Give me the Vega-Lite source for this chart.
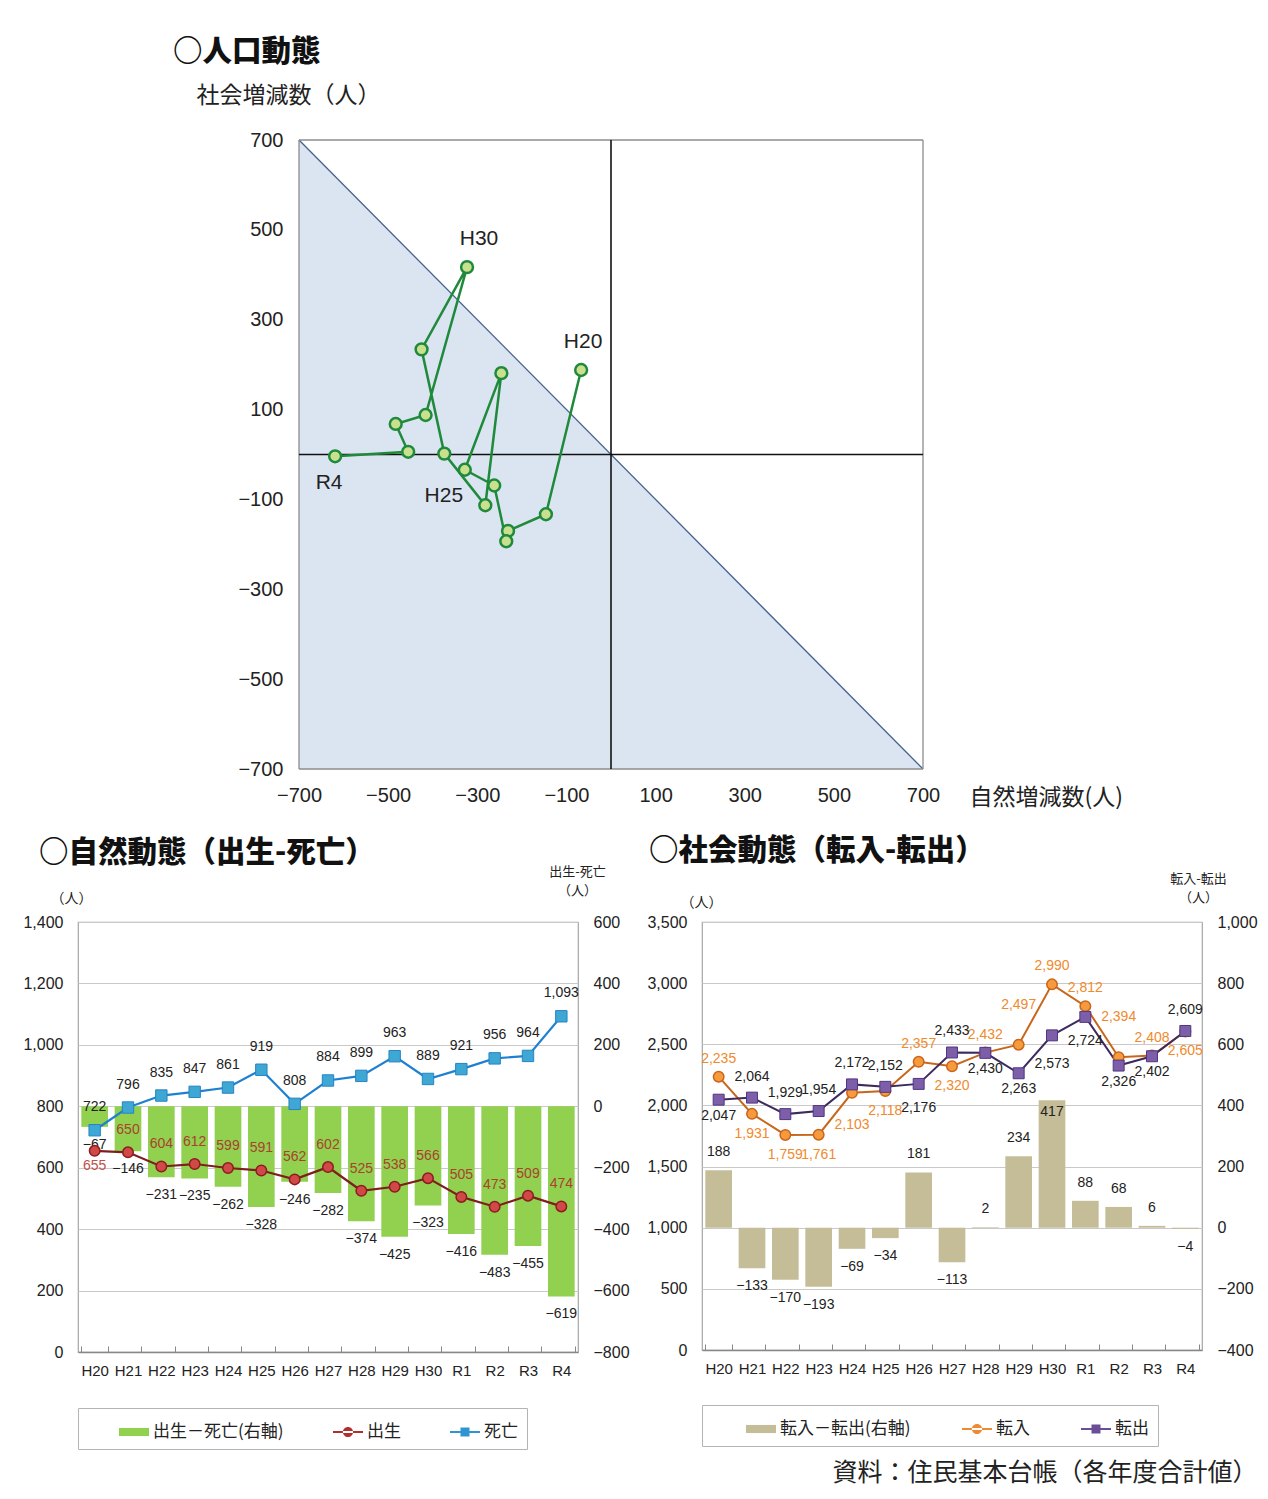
{
  "$schema": "https://vega.github.io/schema/vega-lite/v6.json",
  "background": "white",
  "padding": {"left": 22, "top": 36, "right": 8, "bottom": 3},
  "autosize": {"type": "pad"},
  "title": {"text": "資料：住民基本台帳（各年度合計値）", "orient": "bottom", "anchor": "end", "frame": "bounds", "baseline": "top", "font": "Noto Sans CJK JP", "fontSize": 25, "fontWeight": "normal", "color": "#222", "offset": 11},
  "config": {
    "font": "Liberation Sans, Noto Sans CJK JP",
    "view": {"stroke": null},
    "axis": {"labelFont": "Liberation Sans, Noto Sans CJK JP", "labelColor": "#222", "labelFontSize": 16, "titleFont": "Noto Sans CJK JP", "titleFontWeight": "normal", "titleColor": "#222"},
    "title": {"font": "Noto Sans CJK JP", "fontWeight": 900, "fontSize": 29.5, "color": "#111", "anchor": "start", "frame": "group", "baseline": "bottom"},
    "text": {"font": "Liberation Sans, Noto Sans CJK JP", "fontSize": 14, "color": "#222"},
    "legend": {"labelFont": "Noto Sans CJK JP", "labelFontSize": 17, "labelColor": "#222"}
  },
  "datasets": {
    "d": [
      {"yr": "H20", "birth": 655, "death": 722, "nat": -67, "tin": 2235, "tout": 2047, "soc": 188},
      {"yr": "H21", "birth": 650, "death": 796, "nat": -146, "tin": 1931, "tout": 2064, "soc": -133},
      {"yr": "H22", "birth": 604, "death": 835, "nat": -231, "tin": 1759, "tout": 1929, "soc": -170},
      {"yr": "H23", "birth": 612, "death": 847, "nat": -235, "tin": 1761, "tout": 1954, "soc": -193},
      {"yr": "H24", "birth": 599, "death": 861, "nat": -262, "tin": 2103, "tout": 2172, "soc": -69},
      {"yr": "H25", "birth": 591, "death": 919, "nat": -328, "tin": 2118, "tout": 2152, "soc": -34},
      {"yr": "H26", "birth": 562, "death": 808, "nat": -246, "tin": 2357, "tout": 2176, "soc": 181},
      {"yr": "H27", "birth": 602, "death": 884, "nat": -282, "tin": 2320, "tout": 2433, "soc": -113},
      {"yr": "H28", "birth": 525, "death": 899, "nat": -374, "tin": 2432, "tout": 2430, "soc": 2},
      {"yr": "H29", "birth": 538, "death": 963, "nat": -425, "tin": 2497, "tout": 2263, "soc": 234},
      {"yr": "H30", "birth": 566, "death": 889, "nat": -323, "tin": 2990, "tout": 2573, "soc": 417},
      {"yr": "R1", "birth": 505, "death": 921, "nat": -416, "tin": 2812, "tout": 2724, "soc": 88},
      {"yr": "R2", "birth": 473, "death": 956, "nat": -483, "tin": 2394, "tout": 2326, "soc": 68},
      {"yr": "R3", "birth": 509, "death": 964, "nat": -455, "tin": 2408, "tout": 2402, "soc": 6},
      {"yr": "R4", "birth": 474, "death": 1093, "nat": -619, "tin": 2605, "tout": 2609, "soc": -4}
    ],
    "tri": [
      {"nat": -700, "soc": 700},
      {"nat": 700, "soc": -700}
    ]
  },
  "columns": 2,
  "bounds": "flush",
  "spacing": {"row": 153, "column": 124},
  "resolve": {"scale": {"color": "independent", "shape": "independent"}},
  "concat": [
    {
      "width": 500, "height": 629,
      "title": {"text": "○人口動態", "dx": 95, "offset": 17},
      "layer": [
        {
          "data": {"name": "tri"},
          "encoding": {
            "x": {"field": "nat", "type": "quantitative", "scale": {"domain": [-700, 700], "range": [221, 845], "nice": false, "zero": false},
              "axis": {"orient": "bottom", "values": [-700, -500, -300, -100, 100, 300, 500, 700], "labelFlush": false, "labelOverlap": false, "labelFontSize": 20, "labelPadding": 16, "ticks": false, "domain": false, "grid": false,
                "title": "自然増減数(人)", "titleAngle": 0, "titleAlign": "left", "titleBaseline": "middle", "titleX": 891, "titleY": 28, "titleFontSize": 23}},
            "y": {"field": "soc", "type": "quantitative", "scale": {"domain": [-700, 700], "nice": false, "zero": false},
              "axis": {"orient": "left", "offset": -221, "values": [-700, -500, -300, -100, 100, 300, 500, 700], "labelFlush": false, "labelOverlap": false, "labelFontSize": 20, "labelPadding": 16, "ticks": false, "domain": false, "grid": false,
                "title": "社会増減数（人）", "titleAngle": 0, "titleAlign": "left", "titleBaseline": "middle", "titleX": -103, "titleY": -45, "titleFontSize": 23}}
          },
          "layer": [
            {"mark": {"type": "area", "color": "#dbe5f1", "opacity": 1}, "encoding": {"y2": {"datum": -700}}},
            {"mark": {"type": "line", "color": "#44628f", "strokeWidth": 1.3}}
          ]
        },
        {
          "data": {"values": [{}]},
          "layer": [
            {"mark": {"type": "rule", "color": "#8c8c8c", "strokeWidth": 1.3},
              "encoding": {"x": {"datum": -700, "type": "quantitative", "scale": {"domain": [-700, 700], "range": [221, 845], "nice": false}, "axis": null}}},
            {"mark": {"type": "rule", "color": "#8c8c8c", "strokeWidth": 1.3},
              "encoding": {"x": {"datum": 700, "type": "quantitative", "scale": {"domain": [-700, 700], "range": [221, 845], "nice": false}, "axis": null}}},
            {"mark": {"type": "rule", "color": "#8c8c8c", "strokeWidth": 1.3},
              "encoding": {
                "x": {"datum": -700, "type": "quantitative", "scale": {"domain": [-700, 700], "range": [221, 845], "nice": false}, "axis": null},
                "x2": {"datum": 700},
                "y": {"datum": 700, "type": "quantitative", "scale": {"domain": [-700, 700], "nice": false}, "axis": null}}},
            {"mark": {"type": "rule", "color": "#8c8c8c", "strokeWidth": 1.3},
              "encoding": {
                "x": {"datum": -700, "type": "quantitative", "scale": {"domain": [-700, 700], "range": [221, 845], "nice": false}, "axis": null},
                "x2": {"datum": 700},
                "y": {"datum": -700, "type": "quantitative", "scale": {"domain": [-700, 700], "nice": false}, "axis": null}}},
            {"mark": {"type": "rule", "color": "#111", "strokeWidth": 1.6},
              "encoding": {"x": {"datum": 0, "type": "quantitative", "scale": {"domain": [-700, 700], "range": [221, 845], "nice": false},
                "axis": {"orient": "bottom", "offset": -314.5, "labels": false, "domain": false, "ticks": true, "tickSize": 6, "tickColor": "#111", "tickWidth": 1.5, "values": [-500, -300, -100, 100, 300, 500], "title": null, "grid": false}}}},
            {"mark": {"type": "rule", "color": "#111", "strokeWidth": 1.6},
              "encoding": {
                "x": {"datum": -700, "type": "quantitative", "scale": {"domain": [-700, 700], "range": [221, 845], "nice": false}, "axis": null},
                "x2": {"datum": 700},
                "y": {"datum": 0, "type": "quantitative", "scale": {"domain": [-700, 700], "nice": false},
                  "axis": {"orient": "left", "offset": -533, "labels": false, "domain": false, "ticks": true, "tickSize": 6, "tickColor": "#111", "tickWidth": 1.5, "values": [-500, -300, -100, 100, 300, 500], "title": null, "grid": false}}}}
          ]
        },
        {
          "data": {"name": "d"},
          "encoding": {
            "x": {"field": "nat", "type": "quantitative", "scale": {"domain": [-700, 700], "range": [221, 845], "nice": false, "zero": false}, "axis": null},
            "y": {"field": "soc", "type": "quantitative", "scale": {"domain": [-700, 700], "nice": false, "zero": false}, "axis": null}
          },
          "layer": [
            {"mark": {"type": "line", "color": "#1f8a3c", "strokeWidth": 2.5}, "encoding": {"order": {"value": null}}},
            {"mark": {"type": "circle", "size": 140, "fill": "#c9e08e", "stroke": "#1f8a3c", "strokeWidth": 2.5, "opacity": 1}},
            {"transform": [{"filter": {"field": "yr", "equal": "H20"}}], "mark": {"type": "text", "fontSize": 21, "dy": -28, "dx": 2}, "encoding": {"text": {"field": "yr"}}},
            {"transform": [{"filter": {"field": "yr", "equal": "H30"}}], "mark": {"type": "text", "fontSize": 21, "dy": -28, "dx": 12}, "encoding": {"text": {"field": "yr"}}},
            {"transform": [{"filter": {"field": "yr", "equal": "H25"}}], "mark": {"type": "text", "fontSize": 21, "dy": 26, "dx": -21}, "encoding": {"text": {"field": "yr"}}},
            {"transform": [{"filter": {"field": "yr", "equal": "R4"}}], "mark": {"type": "text", "fontSize": 21, "dy": 27, "dx": -6}, "encoding": {"text": {"field": "yr"}}}
          ]
        }
      ],
      "resolve": {"axis": {"x": "independent", "y": "independent"}}
    },
    {
      "width": 1, "height": 1,
      "data": {"values": [{}]},
      "mark": {"type": "point", "opacity": 0},
      "encoding": {}
    },
    {
      "width": 500, "height": 430,
      "title": {"text": "○自然動態（出生-死亡）", "dx": -39, "offset": -3},
      "view": {"stroke": "#a6a6a6", "strokeWidth": 1.2},
      "data": {"name": "d"},
      "encoding": {
        "x": {"field": "yr", "type": "ordinal", "sort": null, "scale": {"paddingInner": 0.2, "paddingOuter": 0.1},
          "axis": {"title": null, "labelAngle": 0, "labelFontSize": 15, "labelPadding": 17, "domainColor": "#888", "domainWidth": 1.5, "tickBand": "extent", "tickSize": -6, "tickColor": "#888", "grid": false}}
      },
      "layer": [
        {
          "encoding": {
            "y": {"field": "nat", "type": "quantitative", "scale": {"domain": [-800, 600], "nice": false},
              "axis": {"orient": "right", "values": [-800, -600, -400, -200, 0, 200, 400, 600], "format": ",d", "grid": false, "domain": false, "ticks": false, "labelPadding": 15,
                "title": ["出生-死亡", "（人）"], "titleAngle": 0, "titleAlign": "center", "titleBaseline": "top", "titleX": -1, "titleY": -57, "titleFontSize": 13, "titleLineHeight": 19}}
          },
          "layer": [
            {"mark": {"type": "bar", "color": "#92d050"}},
            {"mark": {"type": "text", "dy": 18}, "encoding": {"text": {"field": "nat", "format": ","}}}
          ]
        },
        {
          "transform": [{"fold": ["birth", "death"], "as": ["k", "v"]}],
          "encoding": {
            "y": {"field": "v", "type": "quantitative", "scale": {"domain": [0, 1400], "nice": false},
              "axis": {"orient": "left", "values": [0, 200, 400, 600, 800, 1000, 1200, 1400], "format": ",d", "grid": true, "gridColor": "#c9c9c9", "domain": false, "ticks": false, "labelPadding": 15,
                "title": "（人）", "titleAngle": 0, "titleAlign": "center", "titleBaseline": "middle", "titleX": -7, "titleY": -24, "titleFontSize": 14}},
            "order": {"value": null}
          },
          "layer": [
            {"transform": [{"filter": {"field": "k", "equal": "birth"}}], "mark": {"type": "line", "color": "#7d1f1f", "strokeWidth": 2.2}},
            {"transform": [{"filter": {"field": "k", "equal": "death"}}], "mark": {"type": "line", "color": "#1f80d2", "strokeWidth": 2.2}},
            {"transform": [{"filter": {"field": "k", "equal": "birth"}}], "mark": {"type": "circle", "size": 110, "fill": "#d04848", "stroke": "#8b1d1d", "strokeWidth": 1.5, "opacity": 1}},
            {"transform": [{"filter": {"field": "k", "equal": "death"}}], "mark": {"type": "square", "size": 130, "fill": "#3ea7d4", "stroke": "#2684c4", "strokeWidth": 1, "opacity": 1}},
            {"transform": [{"filter": "datum.k == 'birth' && datum.yr != 'H20'"}], "mark": {"type": "text", "dy": -22, "color": "#a8432e"}, "encoding": {"text": {"field": "v", "format": ","}}},
            {"transform": [{"filter": "datum.k == 'birth' && datum.yr == 'H20'"}], "mark": {"type": "text", "dy": 15, "color": "#c2504a"}, "encoding": {"text": {"field": "v", "format": ","}}},
            {"transform": [{"filter": {"field": "k", "equal": "death"}}], "mark": {"type": "text", "dy": -23}, "encoding": {"text": {"field": "v", "format": ","}}}
          ]
        },
        {
          "data": {"values": [{"s": "出生－死亡(右軸)"}, {"s": "出生"}, {"s": "死亡"}]},
          "mark": {"type": "point", "filled": true, "opacity": 0},
          "encoding": {
            "x": {"value": 0}, "y": {"value": 0},
            "color": {"field": "s", "type": "nominal", "scale": {"domain": ["出生－死亡(右軸)", "出生", "死亡"], "range": ["#92d050", "#b03030", "#2f95d0"]},
              "legend": {"orient": "none", "legendX": 0, "legendY": 486, "direction": "horizontal", "title": null, "strokeColor": "#b4b4b4", "fillColor": "white", "padding": 9, "symbolOffset": 32, "columnPadding": 17, "labelOffset": 4, "symbolSize": 900, "symbolStrokeWidth": 0, "symbolOpacity": 1,
                "encode": {"symbols": {"update": {"opacity": {"value": 1}}}}}},
            "shape": {"field": "s", "type": "nominal", "scale": {"domain": ["出生－死亡(右軸)", "出生", "死亡"], "range": ["M-1,-0.27H1V0.27H-1Z", "M-1,-0.07H1V0.07H-1Z M-0.34,0A0.34,0.34 0 1,0 0.34,0A0.34,0.34 0 1,0 -0.34,0Z", "M-1,-0.07H1V0.07H-1Z M-0.3,-0.3H0.3V0.3H-0.3Z"]}}
          }
        }
      ],
      "resolve": {"scale": {"y": "independent"}}
    },
    {
      "width": 500, "height": 428,
      "title": {"text": "○社会動態（転入-転出）", "dx": -53, "offset": 6},
      "view": {"stroke": "#a6a6a6", "strokeWidth": 1.2},
      "data": {"name": "d"},
      "encoding": {
        "x": {"field": "yr", "type": "ordinal", "sort": null, "scale": {"paddingInner": 0.2, "paddingOuter": 0.1},
          "axis": {"title": null, "labelAngle": 0, "labelFontSize": 15, "labelPadding": 17, "domainColor": "#888", "domainWidth": 1.5, "tickBand": "extent", "tickSize": -6, "tickColor": "#888", "grid": false}}
      },
      "layer": [
        {
          "encoding": {
            "y": {"field": "soc", "type": "quantitative", "scale": {"domain": [-400, 1000], "nice": false},
              "axis": {"orient": "right", "values": [-400, -200, 0, 200, 400, 600, 800, 1000], "format": ",d", "grid": false, "domain": false, "ticks": false, "labelPadding": 15,
                "title": ["転入-転出", "（人）"], "titleAngle": 0, "titleAlign": "center", "titleBaseline": "top", "titleX": -4, "titleY": -50, "titleFontSize": 13, "titleLineHeight": 19}}
          },
          "layer": [
            {"mark": {"type": "bar", "color": "#c4bd97"}},
            {"transform": [{"filter": "datum.soc >= 0 && datum.yr != 'H30'"}], "mark": {"type": "text", "dy": -18}, "encoding": {"text": {"field": "soc", "format": ","}}},
            {"transform": [{"filter": "datum.yr == 'H30'"}], "mark": {"type": "text", "dy": 12}, "encoding": {"text": {"field": "soc", "format": ","}}},
            {"transform": [{"filter": "datum.soc < 0"}], "mark": {"type": "text", "dy": 18}, "encoding": {"text": {"field": "soc", "format": ","}}}
          ]
        },
        {
          "transform": [{"fold": ["tin", "tout"], "as": ["k", "v"]}],
          "encoding": {
            "y": {"field": "v", "type": "quantitative", "scale": {"domain": [0, 3500], "nice": false},
              "axis": {"orient": "left", "values": [0, 500, 1000, 1500, 2000, 2500, 3000, 3500], "format": ",d", "grid": true, "gridColor": "#c9c9c9", "domain": false, "ticks": false, "labelPadding": 15,
                "title": "（人）", "titleAngle": 0, "titleAlign": "center", "titleBaseline": "middle", "titleX": -1, "titleY": -20, "titleFontSize": 14}},
            "order": {"value": null}
          },
          "layer": [
            {"transform": [{"filter": {"field": "k", "equal": "tin"}}], "mark": {"type": "line", "color": "#c8661a", "strokeWidth": 2}},
            {"transform": [{"filter": {"field": "k", "equal": "tout"}}], "mark": {"type": "line", "color": "#3d2b5e", "strokeWidth": 2}},
            {"transform": [{"filter": {"field": "k", "equal": "tin"}}], "mark": {"type": "circle", "size": 110, "fill": "#f79a3e", "stroke": "#c8661a", "strokeWidth": 1.5, "opacity": 1}},
            {"transform": [{"filter": {"field": "k", "equal": "tout"}}], "mark": {"type": "square", "size": 120, "fill": "#7d5ea9", "stroke": "#4f3680", "strokeWidth": 1, "opacity": 1}},
            {"transform": [{"filter": {"field": "k", "equal": "tin"}}, {"filter": {"field": "yr", "oneOf": ["H20", "H26", "H28", "H30", "R1", "R3"]}}],
              "mark": {"type": "text", "dy": -18, "color": "#f08a2c"}, "encoding": {"text": {"field": "v", "format": ","}}},
            {"transform": [{"filter": {"field": "k", "equal": "tin"}}, {"filter": {"field": "yr", "oneOf": ["H29", "R2"]}}],
              "mark": {"type": "text", "dy": -40, "color": "#f08a2c"}, "encoding": {"text": {"field": "v", "format": ","}}},
            {"transform": [{"filter": {"field": "k", "equal": "tin"}}, {"filter": {"field": "yr", "oneOf": ["H21", "H22", "H23", "H25", "H27", "R4"]}}],
              "mark": {"type": "text", "dy": 20, "color": "#f08a2c"}, "encoding": {"text": {"field": "v", "format": ","}}},
            {"transform": [{"filter": {"field": "k", "equal": "tin"}}, {"filter": {"field": "yr", "equal": "H24"}}],
              "mark": {"type": "text", "dy": 32, "color": "#f08a2c"}, "encoding": {"text": {"field": "v", "format": ","}}},
            {"transform": [{"filter": {"field": "k", "equal": "tout"}}, {"filter": {"field": "yr", "oneOf": ["H21", "H22", "H23", "H24", "H25", "H27", "R4"]}}],
              "mark": {"type": "text", "dy": -21}, "encoding": {"text": {"field": "v", "format": ","}}},
            {"transform": [{"filter": {"field": "k", "equal": "tout"}}, {"filter": {"field": "yr", "oneOf": ["H20", "H28", "H29", "R2", "R3"]}}],
              "mark": {"type": "text", "dy": 16}, "encoding": {"text": {"field": "v", "format": ","}}},
            {"transform": [{"filter": {"field": "k", "equal": "tout"}}, {"filter": {"field": "yr", "oneOf": ["H26", "R1"]}}],
              "mark": {"type": "text", "dy": 24}, "encoding": {"text": {"field": "v", "format": ","}}},
            {"transform": [{"filter": {"field": "k", "equal": "tout"}}, {"filter": {"field": "yr", "equal": "H30"}}],
              "mark": {"type": "text", "dy": 29}, "encoding": {"text": {"field": "v", "format": ","}}}
          ]
        },
        {
          "data": {"values": [{"s": "転入－転出(右軸)"}, {"s": "転入"}, {"s": "転出"}]},
          "mark": {"type": "point", "filled": true, "opacity": 0},
          "encoding": {
            "x": {"value": 0}, "y": {"value": 0},
            "color": {"field": "s", "type": "nominal", "scale": {"domain": ["転入－転出(右軸)", "転入", "転出"], "range": ["#c4bd97", "#ee8a32", "#6a4f96"]},
              "legend": {"orient": "none", "legendX": 0, "legendY": 483, "direction": "horizontal", "title": null, "strokeColor": "#b4b4b4", "fillColor": "white", "padding": 9, "symbolOffset": 35, "columnPadding": 16, "labelOffset": 4, "symbolSize": 900, "symbolStrokeWidth": 0, "symbolOpacity": 1,
                "encode": {"symbols": {"update": {"opacity": {"value": 1}}}}}},
            "shape": {"field": "s", "type": "nominal", "scale": {"domain": ["転入－転出(右軸)", "転入", "転出"], "range": ["M-1,-0.27H1V0.27H-1Z", "M-1,-0.07H1V0.07H-1Z M-0.34,0A0.34,0.34 0 1,0 0.34,0A0.34,0.34 0 1,0 -0.34,0Z", "M-1,-0.07H1V0.07H-1Z M-0.3,-0.3H0.3V0.3H-0.3Z"]}}
          }
        }
      ],
      "resolve": {"scale": {"y": "independent"}}
    }
  ]
}
